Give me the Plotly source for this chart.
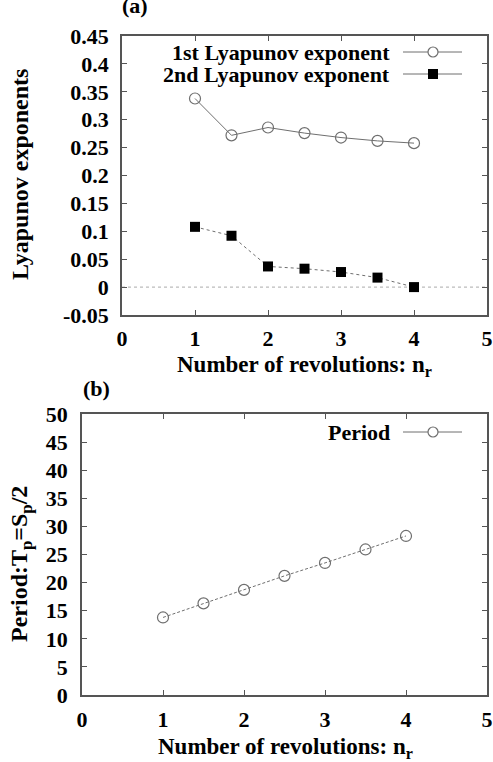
import plotly.graph_objects as go

# ---- data ----
nr = [1, 1.5, 2, 2.5, 3, 3.5, 4]
lyap1 = [0.338, 0.272, 0.286, 0.276, 0.268, 0.262, 0.258]
lyap2 = [0.108, 0.092, 0.037, 0.033, 0.027, 0.017, 0.0]
period = [13.8, 16.3, 18.7, 21.2, 23.5, 25.9, 28.3]

x_ticks = [0, 1, 2, 3, 4, 5]
y1_ticks = [-0.05, 0, 0.05, 0.1, 0.15, 0.2, 0.25, 0.3, 0.35, 0.4, 0.45]
y1_labels = ["-0.05", "0", "0.05", "0.1", "0.15", "0.2", "0.25", "0.3", "0.35", "0.4", "0.45"]
y2_ticks = [0, 5, 10, 15, 20, 25, 30, 35, 40, 45, 50]

W, H = 493, 762
FONT = "Liberation Serif"
FS = 22
GRAY = "#6f6f6f"
FRAME = "#555555"

fig = go.Figure()

fig.add_trace(go.Scatter(x=[0, 5], y=[0, 0], mode="lines", xaxis="x", yaxis="y",
                         line=dict(color="#aaaaaa", width=1, dash="dot"), hoverinfo="skip"))
fig.add_trace(go.Scatter(x=nr, y=lyap1, mode="lines+markers", xaxis="x", yaxis="y",
                         line=dict(color=GRAY, width=1),
                         marker=dict(symbol="circle-open", size=11, color=GRAY, line=dict(width=1.2))))
fig.add_trace(go.Scatter(x=nr, y=lyap2, mode="lines+markers", xaxis="x", yaxis="y",
                         line=dict(color=GRAY, width=1, dash="dot"),
                         marker=dict(symbol="square", size=10, color="black")))
fig.add_trace(go.Scatter(x=nr, y=period, mode="lines+markers", xaxis="x2", yaxis="y2",
                         line=dict(color=GRAY, width=1, dash="3px,2px"),
                         marker=dict(symbol="circle-open", size=11, color=GRAY, line=dict(width=1.2))))

def px_x(p):
    return p / W

def px_y(p):
    return 1 - p / H

axis_common = dict(
    showgrid=False, zeroline=False, showline=True, linecolor=FRAME, linewidth=1.5,
    mirror="allticks", ticks="inside", ticklen=5, tickcolor=FRAME, automargin=False,
    tickfont=dict(family=FONT, size=FS, color="black", weight="bold"),
)

fig.update_layout(
    width=W, height=H,
    margin=dict(l=0, r=0, t=0, b=0, autoexpand=False),
    paper_bgcolor="white", plot_bgcolor="white",
    showlegend=False,
    xaxis=dict(domain=[px_x(122), px_x(487)], range=[0, 5], tickvals=x_ticks,
               anchor="y", ticklabelstandoff=3, **axis_common),
    yaxis=dict(domain=[px_y(315), px_y(36)], range=[-0.05, 0.45], tickvals=y1_ticks,
               ticktext=y1_labels, anchor="x", ticklabelstandoff=7, **axis_common),
    xaxis2=dict(domain=[px_x(82), px_x(487)], range=[0, 5], tickvals=x_ticks,
                anchor="y2", ticklabelstandoff=4, **axis_common),
    yaxis2=dict(domain=[px_y(695), px_y(414)], range=[0, 50], tickvals=y2_ticks,
                anchor="x2", ticklabelstandoff=8, **axis_common),
)

def note(text, x, y, xanchor="center", angle=0, size=FS):
    return dict(text=text, x=px_x(x), y=px_y(y), xref="paper", yref="paper",
                xanchor=xanchor, yanchor="middle", textangle=angle, showarrow=False,
                font=dict(family=FONT, size=size, color="black", weight="bold"))

ann = [
    note("(a)", 135, 6),
    note("(b)", 96, 388),
    note("Number of revolutions: n<sub>r</sub>", 304, 366, size=23),
    note("Number of revolutions: n<sub>r</sub>", 285, 748, size=23),
    note("Lyapunov exponents", 20, 175, angle=-90, size=24),
    note("Period:T<sub>p</sub>=S<sub>p</sub>/2", 21, 564, angle=-90, size=24),
]
# legend texts
for txt, yy in [("1st Lyapunov exponent", 52), ("2nd Lyapunov exponent", 74), ("Period", 432)]:
    ann.append(note(txt, 392, yy, xanchor="right"))
fig.update_layout(annotations=ann)

shapes = []
for yy, kind in [(52, "circle"), (74, "square"), (432, "circle")]:
    shapes.append(dict(type="line", xref="paper", yref="paper", x0=px_x(403), x1=px_x(462),
                       y0=px_y(yy), y1=px_y(yy), line=dict(color=GRAY, width=1)))
    if kind == "circle":
        shapes.append(dict(type="circle", xref="paper", yref="paper",
                           x0=px_x(433 - 5), x1=px_x(433 + 5), y0=px_y(yy + 5), y1=px_y(yy - 5),
                           fillcolor="white", line=dict(color=GRAY, width=1.2)))
    else:
        shapes.append(dict(type="rect", xref="paper", yref="paper",
                           x0=px_x(433 - 5), x1=px_x(433 + 5), y0=px_y(yy + 5), y1=px_y(yy - 5),
                           fillcolor="black", line=dict(color="black", width=0)))
fig.update_layout(shapes=shapes)

fig.write_html("out.html")
